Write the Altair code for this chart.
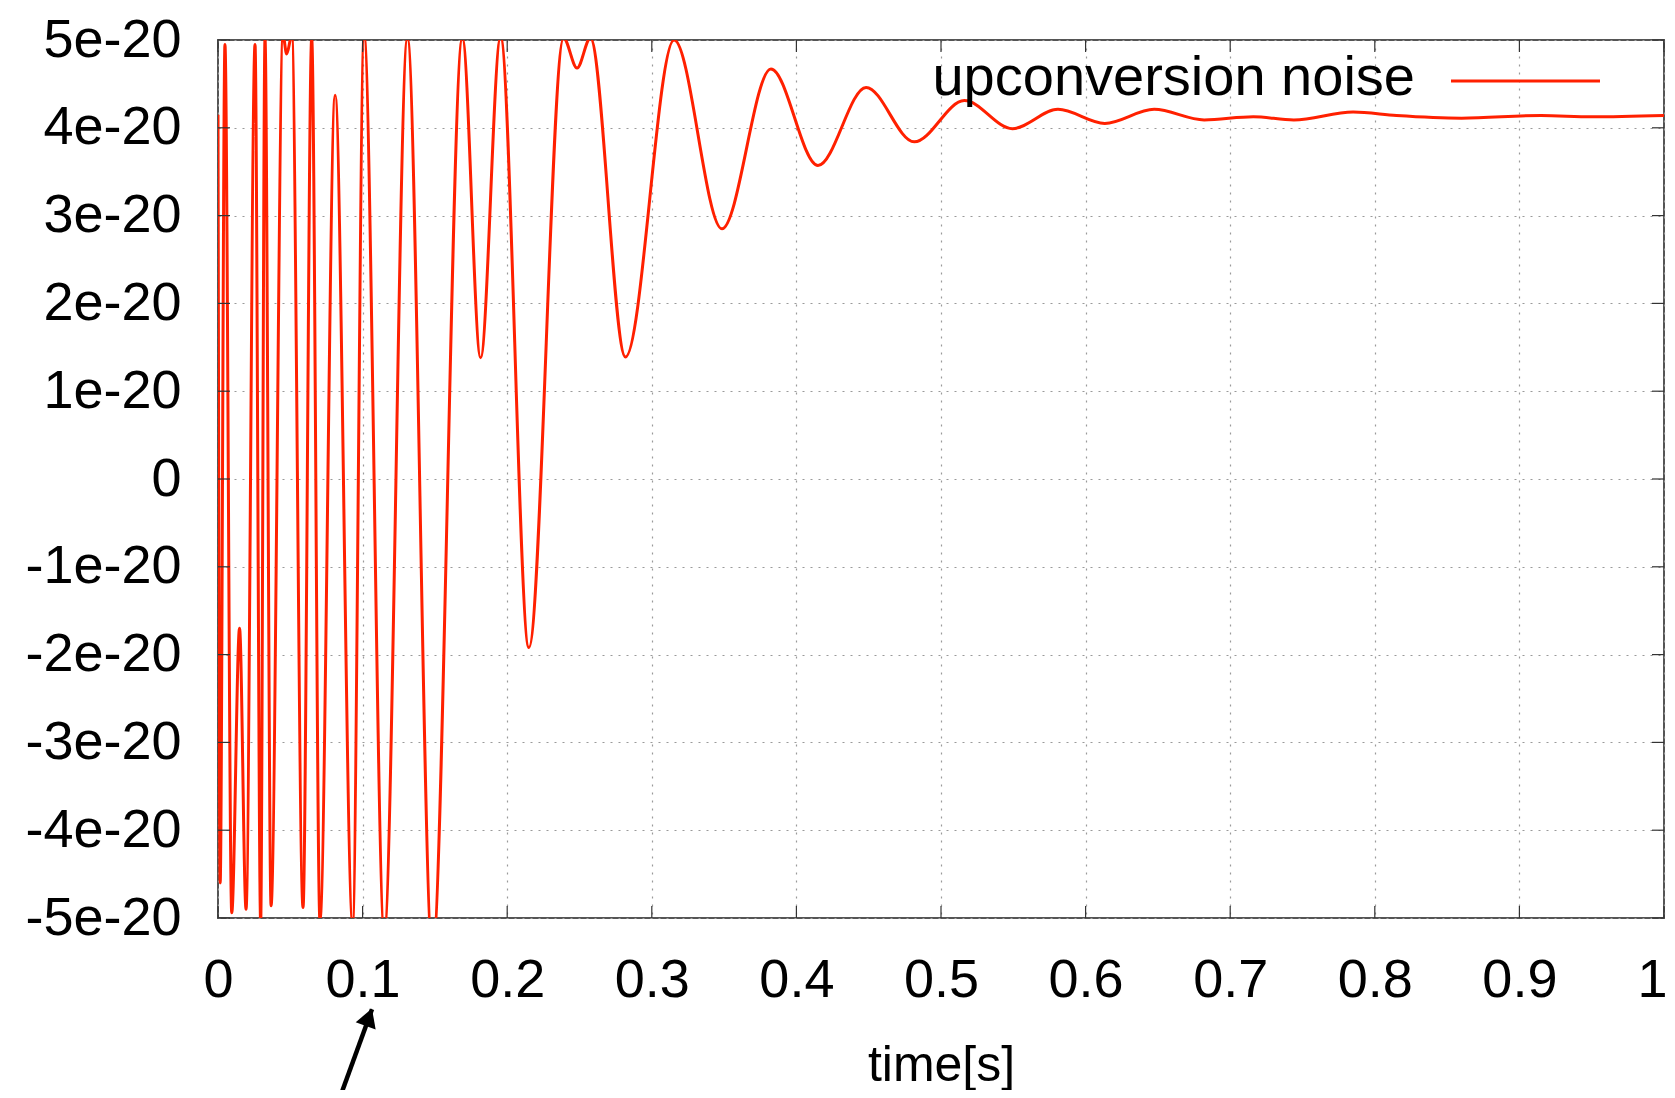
import altair as alt
import pandas as pd

# ---- data (noise in units of 1e-20) ----
time_s = [0.000, 0.0015, 0.0048, 0.0095, 0.0149, 0.0194, 0.0256, 0.0295, 0.0325, 0.0367,
          0.0450, 0.0475, 0.0510, 0.0588, 0.0648, 0.0705, 0.0810, 0.0931, 0.1010, 0.1150,
          0.1310, 0.1483, 0.1690, 0.1816, 0.1954, 0.2150, 0.2390, 0.2483, 0.2575, 0.2818,
          0.3154, 0.3485, 0.3824, 0.4149, 0.4482, 0.4815, 0.5161, 0.5494, 0.5809, 0.6133,
          0.6474, 0.6820, 0.7160, 0.7440, 0.7850, 0.8150, 0.8600, 0.9150, 0.9500, 1.0000]
noise_e20 = [4.15, -4.60, 4.95, -4.94, -1.70, -4.90, 4.95, -5.05, 5.02, -4.86,
             5.05, 4.84, 5.05, -4.88, 5.02, -5.03, 4.37, -5.05, 5.05, -5.15,
             5.02, -5.40, 5.02, 1.38, 5.03, -1.92, 5.02, 4.68, 5.02, 1.39,
             5.00, 2.85, 4.67, 3.57, 4.46, 3.84, 4.31, 3.99, 4.21, 4.05,
             4.21, 4.09, 4.125, 4.09, 4.18, 4.14, 4.11, 4.14, 4.125, 4.14]

x_ticks = [0, 0.1, 0.2, 0.3, 0.4, 0.5, 0.6, 0.7, 0.8, 0.9, 1]
y_ticks = [-5, -4, -3, -2, -1, 0, 1, 2, 3, 4, 5]
series_label = "upconversion noise"
x_title = "time[s]"

# annotation arrow (data coordinates, below the axis)
arrow_time = [0.0844, 0.1065]
arrow_noise = [-7.04, -6.04]

# ---- styling ----
W, H = 1446, 878
RED = "#ff2000"
FONT = "Liberation Sans"
TICK_LEN = 12
GRID = "#9a9a9a"

df = pd.DataFrame({"time": time_s, "noise": noise_e20})
xt = pd.DataFrame({"time": x_ticks})
yt = pd.DataFrame({"noise": y_ticks})
arrow_df = pd.DataFrame({"time": [arrow_time[0]], "noise": [arrow_noise[0]],
                         "time2": [arrow_time[1]], "noise2": [arrow_noise[1]]})
head_df = pd.DataFrame({"time": [arrow_time[1] - 0.0022], "noise": [arrow_noise[1] - 0.09]})
lab_df = pd.DataFrame({"label": [series_label]})

xs = alt.Scale(domain=[0, 1], nice=False, zero=False)
ys = alt.Scale(domain=[-5, 5], nice=False, zero=False)

x_axis = alt.Axis(values=x_ticks, format=".1~f", title=x_title,
                  labelFont=FONT, labelFontSize=54, labelColor="black",
                  labelOffset={"condition": {"test": "datum.value == 1", "value": -12}, "value": 0},
                  titleFont=FONT, titleFontSize=50, titleColor="black", titleFontWeight="normal",
                  labelPadding=35, titlePadding=33, ticks=False, tickSize=0, domain=False,
                  grid=True, gridDash=[2, 6], gridColor=GRID, gridWidth=1.2,
                  labelFlush=False, labelOverlap=False)
y_axis = alt.Axis(values=y_ticks, title=None,
                  labelExpr="datum.value == 0 ? '0' : toString(datum.value) + 'e-20'",
                  labelFont=FONT, labelFontSize=54, labelColor="black",
                  labelPadding=37, ticks=False, tickSize=0, domain=False,
                  grid=True, gridDash=[2, 6], gridColor=GRID, gridWidth=1.2,
                  labelFlush=False, labelOverlap=False)

line = alt.Chart(df).mark_line(clip=True, interpolate="monotone", color=RED, strokeWidth=3).encode(
    x=alt.X("time:Q", scale=xs, axis=x_axis),
    y=alt.Y("noise:Q", scale=ys, axis=y_axis),
)

tick_col = "#333333"
bottom_ticks = alt.Chart(xt).mark_rule(color=tick_col, strokeWidth=1.2).encode(
    x=alt.X("time:Q", scale=xs), y=alt.value(H), y2=alt.value(H - TICK_LEN))
top_ticks = alt.Chart(xt).mark_rule(color=tick_col, strokeWidth=1.2).encode(
    x=alt.X("time:Q", scale=xs), y=alt.value(0), y2=alt.value(TICK_LEN))
left_ticks = alt.Chart(yt).mark_rule(color=tick_col, strokeWidth=1.2).encode(
    y=alt.Y("noise:Q", scale=ys), x=alt.value(0), x2=alt.value(TICK_LEN))
right_ticks = alt.Chart(yt).mark_rule(color=tick_col, strokeWidth=1.2).encode(
    y=alt.Y("noise:Q", scale=ys), x=alt.value(W), x2=alt.value(W - TICK_LEN))

legend_text = alt.Chart(lab_df).mark_text(align="right", baseline="alphabetic", font=FONT,
                                          fontSize=56, color="black").encode(
    text="label:N", x=alt.value(1197), y=alt.value(54.5))
legend_line = alt.Chart(lab_df).mark_rule(color=RED, strokeWidth=3).encode(
    x=alt.value(1233), x2=alt.value(1382), y=alt.value(41))

arrow_line = alt.Chart(arrow_df).mark_rule(color="black", strokeWidth=4.5).encode(
    x=alt.X("time:Q", scale=xs), y=alt.Y("noise:Q", scale=ys),
    x2="time2:Q", y2="noise2:Q")
arrow_head = alt.Chart(head_df).mark_point(shape="triangle-up", filled=True, size=450, angle=20,
                                           color="black", opacity=1).encode(
    x=alt.X("time:Q", scale=xs), y=alt.Y("noise:Q", scale=ys))

chart = alt.layer(line, bottom_ticks, top_ticks, left_ticks, right_ticks,
                  legend_text, legend_line, arrow_line, arrow_head).properties(
    width=W, height=H,
    autosize=alt.AutoSizeParams(type="none"),
    padding={"left": 210, "top": 32, "right": 3, "bottom": 172},
    background="white",
).configure_view(stroke="#555555", strokeWidth=2)

chart.save("out.html", embed_options={"renderer": "svg", "actions": False})
